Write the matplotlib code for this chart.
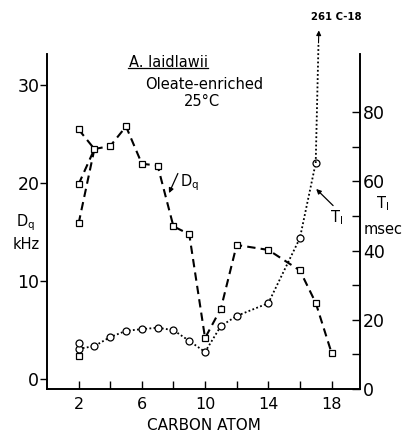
import numpy as np
import matplotlib.pyplot as plt

# Dq (kHz), squares, dashed line
carbon = [3, 4, 5, 6, 7, 8, 9, 10, 11, 12, 14, 16, 17, 18]
dq = [23.5, 23.8, 25.8, 22.0, 21.8, 15.6, 14.8, 4.2, 7.2, 13.7, 13.2, 11.1, 7.8, 2.7]
dq_c2 = [25.5, 19.9, 15.9]   # three C-2 splittings, each joined to C-3
dq_c2_extra = 2.4            # lone square at C-2

# T1 (msec), circles, dotted line
t1_carbon = [2, 3, 4, 5, 6, 7, 8, 9, 10, 11, 12, 14, 16, 17]
t1 = [11.6, 12.4, 15.0, 16.8, 17.3, 17.7, 17.0, 13.9, 10.7, 18.2, 21.1, 24.8, 43.6, 65.3]
t1_c2_extra = 13.2
t1_c18 = 261   # off scale

fig = plt.figure(figsize=(4.04, 4.34), dpi=100)
ax = fig.add_axes([0.1163, 0.1037, 0.7747, 0.7719])
ax2 = ax.twinx()

sq = dict(marker='s', ms=5, mfc='white', mec='black', mew=0.9)
ci = dict(marker='o', ms=5, mfc='white', mec='black', mew=0.9)
dash = (0, (4, 2.5))
dot = (0, (1, 1.3))

for v in dq_c2:
    ax.plot([2, carbon[0]], [v, dq[0]], color='black', lw=1.5, ls=dash, zorder=2)
    ax.plot([2], [v], ls='none', zorder=3, **sq)
ax.plot(carbon, dq, color='black', lw=1.5, ls=dash, zorder=2, **sq)
ax.plot([2], [dq_c2_extra], ls='none', zorder=3, **sq)

ax2.plot(t1_carbon, t1, color='black', lw=1.3, ls=dot, zorder=2, **ci)
ax2.plot([2], [t1_c2_extra], ls='none', zorder=3, **ci)

# dotted run toward the off-scale C-18 value, ending in an arrow above the frame
y_top = 100
frac = (y_top - t1[-1]) / (t1_c18 - t1[-1])
x_top = t1_carbon[-1] + frac * (18 - t1_carbon[-1])
ax2.plot([t1_carbon[-1], x_top], [t1[-1], y_top], color='black', lw=1.3,
         ls=dot, clip_on=False)
ax2.annotate('', xy=(x_top + 0.02, y_top + 3.6), xytext=(x_top, y_top),
             arrowprops=dict(arrowstyle='-|>', color='black', lw=0.8,
                             mutation_scale=7, shrinkA=0, shrinkB=0),
             annotation_clip=False)
ax2.text(x_top + 1.1, y_top + 7.5, '261 C-18', fontsize=7.3, ha='center',
         va='center', fontweight='bold', clip_on=False)

ax.set_xlim(0, 19.8)
ax.set_ylim(-1.0, 33.2)
ax2.set_ylim(0, 96.8)

ax.set_xticks([2, 4, 6, 8, 10, 12, 14, 16, 18])
ax.set_xticklabels(['2', '', '6', '', '10', '', '14', '', '18'], fontsize=11.5)
ax.set_yticks([0, 10, 20, 30])
ax.set_yticklabels(['0', '10', '20', '30'], fontsize=12.5)
ax2.set_yticks([0, 20, 40, 60, 80])
ax2.set_yticklabels(['0', '20', '40', '60', '80'], fontsize=12.5)
ax2.set_yticks([10, 30, 50, 70], minor=True)

ax.tick_params(axis='x', direction='in', length=6, width=1, pad=6)
ax.tick_params(axis='y', direction='out', length=5, width=1, pad=0.5)
ax2.tick_params(axis='y', which='both', direction='in', length=6, width=1, pad=2)

for a in (ax, ax2):
    a.spines['top'].set_visible(False)
    for s in ('left', 'right', 'bottom'):
        a.spines[s].set_linewidth(1.2)

ax.set_xlabel('CARBON ATOM', fontsize=11, labelpad=4)

fig.text(0.064, 0.465, 'D$_\\mathregular{q}$\nkHz', fontsize=10.5, ha='center',
         va='center', linespacing=1.3)
fig.text(0.948, 0.503, 'T$_\\mathregular{I}$\nmsec', fontsize=10.5, ha='center',
         va='center', linespacing=1.7)

fig.text(0.416, 0.857, 'A. laidlawii', fontsize=10.5, ha='center', va='center')
fig.add_artist(plt.Line2D([0.317, 0.515], [0.843, 0.843], color='black', lw=0.9))
fig.text(0.505, 0.806, 'Oleate-enriched', fontsize=10.5, ha='center', va='center')
fig.text(0.5, 0.767, '25°C', fontsize=10.5, ha='center', va='center')

ax.annotate('', xy=(7.72, 19.0), xytext=(8.28, 21.0),
            arrowprops=dict(arrowstyle='-|>', color='black', lw=0.9,
                            mutation_scale=7, shrinkA=0, shrinkB=0))
ax.text(8.4, 20.1, 'D$_\\mathregular{q}$', fontsize=10.5, ha='left', va='center')
ax2.annotate('', xy=(17.03, 57.8), xytext=(18.1, 53.0),
             arrowprops=dict(arrowstyle='-|>', color='black', lw=0.9,
                             mutation_scale=7, shrinkA=0, shrinkB=0))
ax2.text(18.3, 49.4, 'T$_\\mathregular{I}$', fontsize=10.5, ha='center', va='center')

fig.savefig('out.png', dpi=100)
